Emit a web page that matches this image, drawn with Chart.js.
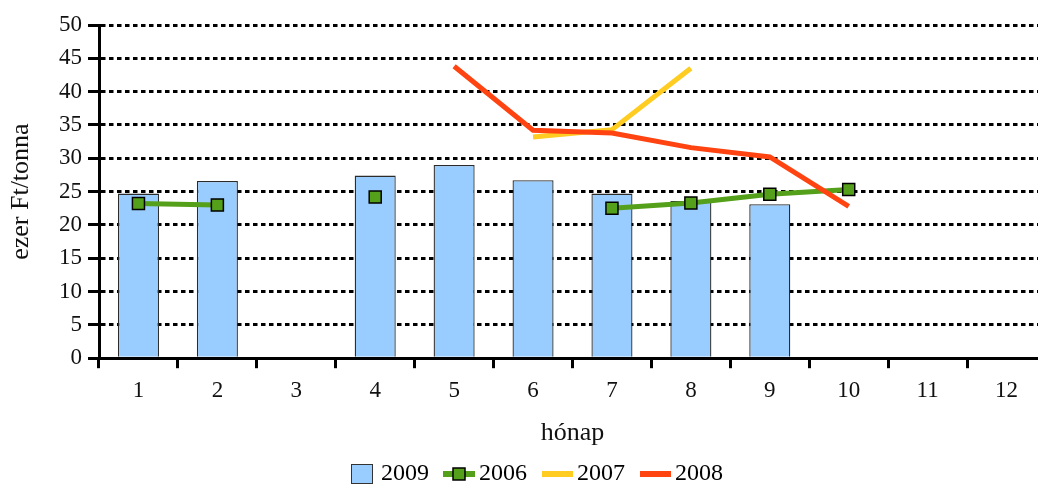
<!DOCTYPE html>
<html>
<head>
<meta charset="utf-8">
<script src="https://cdn.jsdelivr.net/npm/chart.js@4.4.0/dist/chart.umd.min.js"></script>
<style>
  html, body { margin: 0; padding: 0; background: #fff; overflow: hidden; }
  #wrap { width: 1056px; height: 496px; }
</style>
</head>
<body>
<div id="wrap"><canvas id="arChart" width="1056" height="496"></canvas></div>
<script>
// adatok (ezer Ft/tonna)
const honapok = ['1', '2', '3', '4', '5', '6', '7', '8', '9', '10', '11', '12'];
const ev2009 = [24.7, 26.6, null, 27.4, 29.0, 26.7, 24.7, 23.6, 23.1, null, null, null];
const ev2006 = [23.2, 23.0, null, 24.2, null, null, 22.5, 23.3, 24.6, 25.3, null, null];
const ev2007 = [null, null, null, null, null, 33.2, 34.3, 43.5, null, null, null, null];
const ev2008 = [null, null, null, null, 43.8, 34.2, 33.8, 31.6, 30.2, 22.8, null, null];
const yTicks = [0, 5, 10, 15, 20, 25, 30, 35, 40, 45, 50];

const betu = 'Liberation Serif, Times New Roman, serif';
const IKON_W = 37;

// kis jelmagyarazat ikonok (a kep kozepe a jelolodoboz kozepere kerul)
function ikon(tipus, szin) {
    const c = document.createElement('canvas');
    c.width = IKON_W + 16; c.height = 20;
    const g = c.getContext('2d');
    const x0 = 8;
    if (tipus === 'oszlop') {
        g.fillStyle = szin;
        g.fillRect(x0 + 19.5, 0.5, 21, 19);
        g.strokeStyle = '#333';
        g.lineWidth = 1;
        g.strokeRect(x0 + 19.5, 0.5, 21, 19);
    } else {
        g.fillStyle = szin;
        if (tipus === 'pont') {
            g.fillRect(x0 + 13, 7, 32, 6);
            g.fillRect(x0 + 23, 4, 12, 12);
            g.strokeStyle = '#000';
            g.lineWidth = 1.5;
            g.strokeRect(x0 + 23, 4, 12, 12);
        } else {
            g.fillRect(x0 + 14, 7, 31, 6);
        }
    }
    return c;
}

const ikonok = [
    ikon('oszlop', '#99CCFF'),
    ikon('pont', '#55A01A'),
    ikon('vonal', '#FFCC22'),
    ikon('vonal', '#FF4411')
];

const ctx = document.getElementById('arChart').getContext('2d');
const arChart = new Chart(ctx, {
    type: 'bar',
    data: {
        labels: honapok,
        datasets: [{
            type: 'bar',
            label: '2009',
            data: ev2009,
            backgroundColor: '#99CCFF',
            borderColor: '#2b2b2b',
            borderWidth: 1.3,
            categoryPercentage: 1,
            barPercentage: 0.52,
            order: 4
        }, {
            type: 'line',
            label: '2006',
            data: ev2006,
            borderColor: '#55A01A',
            backgroundColor: '#55A01A',
            borderWidth: 5,
            pointStyle: 'rect',
            pointRadius: 8.5,
            pointHoverRadius: 8.5,
            pointBackgroundColor: '#55A01A',
            pointBorderColor: '#000',
            pointBorderWidth: 1.5,
            spanGaps: false,
            tension: 0,
            order: 2
        }, {
            type: 'line',
            label: '2007',
            data: ev2007,
            borderColor: '#FFCC22',
            backgroundColor: '#FFCC22',
            borderWidth: 5,
            pointRadius: 0,
            tension: 0,
            order: 3
        }, {
            type: 'line',
            label: '2008',
            data: ev2008,
            borderColor: '#FF4411',
            backgroundColor: '#FF4411',
            borderWidth: 5,
            pointRadius: 0,
            tension: 0,
            order: 1
        }]
    },
    options: {
        responsive: false,
        animation: false,
        layout: { padding: { top: 25, right: 1, left: 0, bottom: 0 } },
        plugins: {
            tooltip: { enabled: false },
            legend: {
                position: 'bottom',
                labels: {
                    font: { family: betu, size: 24, lineHeight: 1 },
                    color: '#111',
                    usePointStyle: true,
                    pointStyleWidth: IKON_W,
                    padding: 1,
                    generateLabels: (chart) => chart.data.datasets.map((ds, i) => ({
                        text: ds.label,
                        pointStyle: ikonok[i],
                        fillStyle: ds.backgroundColor,
                        strokeStyle: ds.borderColor,
                        lineWidth: 0,
                        hidden: false,
                        datasetIndex: i
                    }))
                }
            }
        },
        scales: {
            x: {
                grid: {
                    display: true,
                    drawOnChartArea: false,
                    drawTicks: true,
                    tickLength: 10,
                    tickColor: '#000',
                    tickWidth: 3,
                    offset: true
                },
                border: { display: true, color: '#000', width: 3 },
                ticks: {
                    color: '#111',
                    padding: 9,
                    maxRotation: 0,
                    font: { family: betu, size: 23 }
                },
                title: {
                    display: true,
                    text: 'hónap',
                    color: '#111',
                    font: { family: betu, size: 26 },
                    padding: { top: 4, bottom: 12 }
                }
            },
            y: {
                min: 0,
                max: 50,
                afterBuildTicks: (scale) => { scale.ticks = yTicks.map(v => ({ value: v })); },
                afterFit: (scale) => { scale.width = 99; },
                grid: {
                    color: '#000',
                    lineWidth: 3,
                    drawTicks: true,
                    tickLength: 11,
                    tickColor: '#000',
                    tickWidth: 3,
                    tickBorderDash: []
                },
                border: { display: true, color: '#000', width: 3, dash: [4.5, 3.5] },
                ticks: {
                    color: '#111',
                    padding: 6,
                    font: { family: betu, size: 23 }
                },
                title: {
                    display: true,
                    text: 'ezer Ft/tonna',
                    color: '#111',
                    font: { family: betu, size: 26 },
                    padding: { top: 6, bottom: 0 }
                }
            }
        }
    }
});
</script>
</body>
</html>
